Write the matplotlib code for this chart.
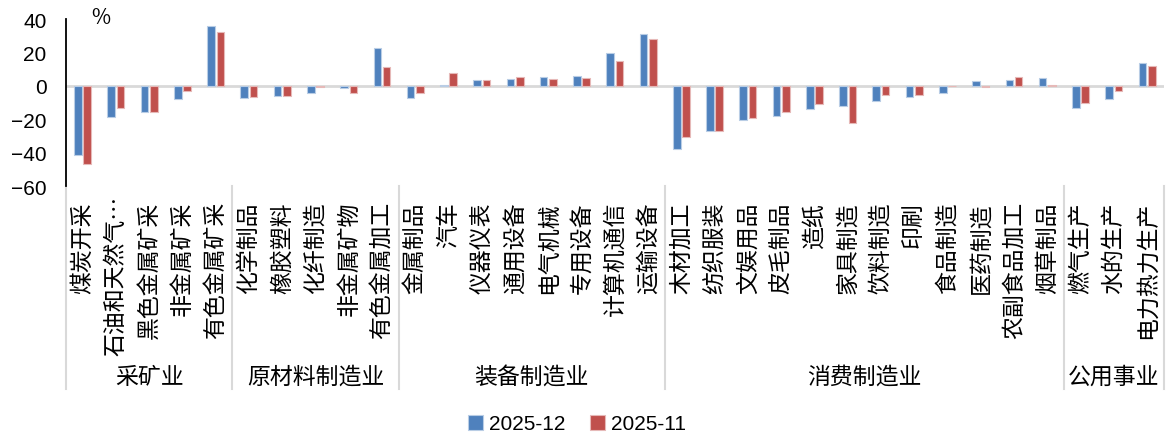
import numpy as np
import matplotlib
matplotlib.use('Agg')
import matplotlib.pyplot as plt
from matplotlib.lines import Line2D
from matplotlib.transforms import blended_transform_factory

plt.rcParams['font.family'] = ['Noto Sans CJK SC', 'DejaVu Sans']
plt.rcParams['axes.unicode_minus'] = True

# industries and their sector groups
industries = ['煤炭开采', '石油和天然气…', '黑色金属矿采', '非金属矿采', '有色金属矿采',
              '化学制品', '橡胶塑料', '化纤制造', '非金属矿物', '有色金属加工',
              '金属制品', '汽车', '仪器仪表', '通用设备', '电气机械', '专用设备', '计算机通信', '运输设备',
              '木材加工', '纺织服装', '文娱用品', '皮毛制品', '造纸', '家具制造', '饮料制造', '印刷',
              '食品制造', '医药制造', '农副食品加工', '烟草制品',
              '燃气生产', '水的生产', '电力热力生产']
groups = ['采矿业', '原材料制造业', '装备制造业', '消费制造业', '公用事业']
group_sizes = [5, 5, 8, 12, 3]

# year-on-year change, %
dec_2025 = [-41.3, -18.5, -15.9, -7.7, 35.9,
            -7.1, -5.8, -4.6, -1.4, 22.4,
            -7.5, 0.6, 3.2, 4.2, 5.2, 5.8, 19.6, 31.3,
            -38.1, -27.2, -20.2, -17.9, -13.7, -12.3, -9.1, -6.5,
            -4.6, 2.8, 3.2, 4.6,
            -13.3, -7.7, 13.9]
nov_2025 = [-47.0, -13.5, -15.5, -3.2, 32.1,
            -6.7, -5.8, -0.8, -4.6, 11.1,
            -4.6, 7.7, 3.2, 5.2, 4.2, 4.6, 14.9, 28.0,
            -30.8, -27.2, -19.0, -15.7, -10.7, -22.4, -5.4, -5.4,
            -0.2, -1.0, 5.2, 0.6,
            -10.3, -3.0, 11.9]
series_names = ['2025-12', '2025-11']

fig = plt.figure(figsize=(11.66, 4.39), dpi=100)
ax = fig.add_axes([0.0566, 0.574, 0.9414, 0.3804])

x = np.arange(len(industries))
w = 0.23
ax.bar(x - 0.14, dec_2025, w, color='#4F81BD', edgecolor='#B9CDE5', linewidth=0.8,
       label=series_names[0], zorder=3)
ax.bar(x + 0.14, nov_2025, w, color='#C0504D', edgecolor='#E6B9B8', linewidth=0.8,
       label=series_names[1], zorder=3)

ax.axhline(0, color='#D9D9D9', lw=2, zorder=2)
ax.set_xlim(-0.5, len(industries) - 0.5)
ax.set_ylim(-60, 40)
ax.set_yticks([-60, -40, -20, 0, 20, 40])
ax.set_yticklabels(['−60', '−40', '−20', '0', '20', '40'], family='Liberation Sans', fontsize=15)
ax.tick_params(axis='y', length=0, pad=14)

ax.set_xticks([])
for s in ['top', 'right', 'bottom']:
    ax.spines[s].set_visible(False)
ax.spines['left'].set_linewidth(1.3)
ax.spines['left'].set_color('black')

ax.text(0.55, 41.5, '%', fontsize=15, va='center', ha='center')

trans = blended_transform_factory(ax.transData, ax.transAxes)

# category labels, read bottom-to-top; the truncated one is pinned at its foot
for i, name in enumerate(industries):
    if name.endswith('…'):
        ax.text(i, -1.01, name, transform=trans, rotation=90, ha='center', va='bottom',
                fontsize=16.5)
    else:
        ax.text(i, -0.09, name, transform=trans, rotation=90, ha='center', va='top',
                fontsize=16.5)

# sector separators and names under the category labels
edges = np.concatenate([[0], np.cumsum(group_sizes)]) - 0.5
for e in edges:
    ax.add_line(Line2D([e, e], [0, -1.216], transform=trans, color='#D9D9D9',
                       lw=1.5, clip_on=False))
for g, a, b in zip(groups, edges[:-1], edges[1:]):
    ax.text((a + b) / 2, -1.138, g, transform=trans, ha='center', va='center', fontsize=16.5)

fig.legend(loc='center', bbox_to_anchor=(577 / 1166, 1 - 425 / 439), ncol=2, frameon=False,
           handlelength=0.7, handleheight=0.7, handletextpad=0.3, columnspacing=1.2,
           prop={'family': 'Liberation Sans', 'size': 15})

fig.savefig('out.png', dpi=100)
